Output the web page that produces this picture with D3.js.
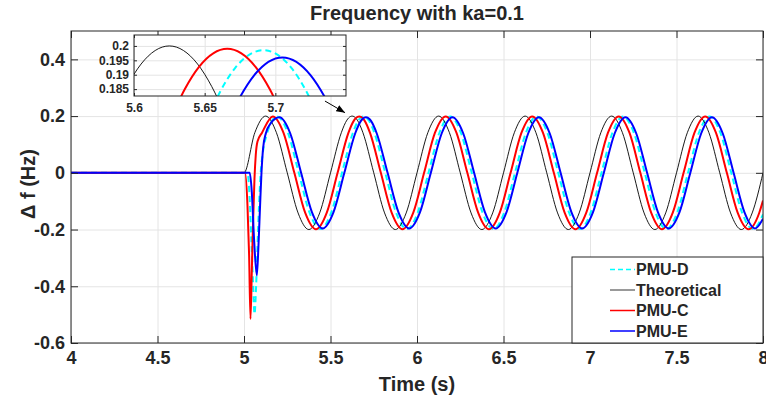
<!DOCTYPE html>
<html>
<head>
<meta charset="utf-8">
<script src="https://cdn.jsdelivr.net/npm/d3@7"></script>
<style>
body{margin:0;background:#fff}
text{font-family:"Liberation Sans",Arial,Helvetica,sans-serif;font-weight:bold;fill:#262626}
</style>
</head>
<body>
<svg id="c" width="766" height="400"></svg>
<script>
// ---------------- DATA ----------------
const titleText = "Frequency with ka=0.1";
const xLabel = "Time (s)";
const yLabel = "\u0394 f (Hz)";
const xDomain = [4, 8];
const yDomain = [-0.6, 0.5];
const xTicks = [4, 4.5, 5, 5.5, 6, 6.5, 7, 7.5, 8];
const yTicks = [-0.6, -0.4, -0.2, 0, 0.2, 0.4];
const insetXDomain = [5.6, 5.75];
const insetYDomain = [0.1826, 0.2038];
const insetXTicks = [5.6, 5.65, 5.7];
const insetYTicks = [0.185, 0.19, 0.195, 0.2];
const seriesNames = ["PMU-D", "Theoretical", "PMU-C", "PMU-E"];

// Theoretical (black)
const tTheo = [4, 5, 5.0625, 5.125, 5.1875, 5.25, 5.3125, 5.375, 5.4375, 5.5, 5.5625, 5.595, 5.605, 5.625, 5.645, 5.655, 5.6875, 5.75, 5.8125, 5.875, 5.9375, 6,
  6.0625, 6.125, 6.1875, 6.25, 6.3125, 6.375, 6.4375, 6.5, 6.5625, 6.625, 6.6875, 6.75, 6.8125, 6.875, 6.9375, 7,
  7.0625, 7.125, 7.1875, 7.25, 7.3125, 7.375, 7.4375, 7.5, 7.5625, 7.625, 7.6875, 7.75, 7.8125, 7.875, 7.9375, 8];
const fTheo = [0, 0, .1414, .2, .1414, 0, -.1414, -.2, -.1414, 0, .1414, .1859, .1937, .2, .1937, .1859, .1414, 0, -.1414, -.2, -.1414, 0,
  .1414, .2, .1414, 0, -.1414, -.2, -.1414, 0, .1414, .2, .1414, 0, -.1414, -.2, -.1414, 0,
  .1414, .2, .1414, 0, -.1414, -.2, -.1414, 0, .1414, .2, .1414, 0, -.1414, -.2, -.1414, 0];

// PMU-C (red)
const tPMUC = [4, 5.006, 5.02, 5.0295, 5.0375, 5.045, 5.0525, 5.0606, 5.068, 5.078,
  5.1035, 5.166, 5.2285, 5.291, 5.3535, 5.416, 5.4785, 5.541, 5.6035, 5.636, 5.646, 5.666, 5.686, 5.696,
  5.7285, 5.791, 5.8535, 5.916, 5.9785, 6.041, 6.1035, 6.166, 6.2285, 6.291, 6.3535, 6.416, 6.4785, 6.541,
  6.6035, 6.666, 6.7285, 6.791, 6.8535, 6.916, 6.9785, 7.041, 7.1035, 7.166, 7.2285, 7.291, 7.3535, 7.416, 7.4785, 7.541,
  7.6035, 7.666, 7.7285, 7.791, 7.8535, 7.916, 7.9785, 8];
const fPMUC = [0, 0, -.114, -.29, -.515, -.35, -.173, -.02, .063, .11,
  .1407, .199, .1407, 0, -.1407, -.199, -.1407, 0, .1407, .185, .1927, .199, .1927, .185,
  .1407, 0, -.1407, -.199, -.1407, 0, .1407, .199, .1407, 0, -.1407, -.199, -.1407, 0,
  .1407, .199, .1407, 0, -.1407, -.199, -.1407, 0, .1407, .199, .1407, 0, -.1407, -.199, -.1407, 0,
  .1407, .199, .1407, 0, -.1407, -.199, -.1407, -.098];

// PMU-D (cyan dashed)
const tPMUD = [4, 5.02, 5.0335, 5.0432, 5.0525, 5.0606, 5.07, 5.078, 5.087, 5.097, 5.107, 5.129,
  5.1915, 5.254, 5.3165, 5.379, 5.4415, 5.504, 5.5665, 5.629, 5.6615, 5.6715, 5.6915, 5.7115, 5.7215,
  5.754, 5.8165, 5.879, 5.9415, 6.004, 6.0665, 6.129, 6.1915, 6.254, 6.3165, 6.379, 6.4415, 6.504, 6.5665,
  6.629, 6.6915, 6.754, 6.8165, 6.879, 6.9415, 7.004, 7.0665, 7.129, 7.1915, 7.254, 7.3165, 7.379, 7.4415, 7.504, 7.5665,
  7.629, 7.6915, 7.754, 7.8165, 7.879, 7.9415, 8];
const fPMUD = [0, 0, -.1, -.25, -.39, -.498, -.40, -.256, -.114, .004, .063, .13,
  .1985, .1404, 0, -.1404, -.1985, -.1404, 0, .1404, .1846, .1923, .1985, .1923, .1846,
  .1404, 0, -.1404, -.1985, -.1404, 0, .1404, .1985, .1404, 0, -.1404, -.1985, -.1404, 0,
  .1404, .1985, .1404, 0, -.1404, -.1985, -.1404, 0, .1404, .1985, .1404, 0, -.1404, -.1985, -.1404, 0,
  .1404, .1985, .1404, 0, -.1404, -.1985, -.147];

// PMU-E (blue)
const tPMUE = [4, 5.033, 5.045, 5.058, 5.074, 5.0837, 5.093, 5.101, 5.1103, 5.126, 5.155,
  5.205, 5.2675, 5.33, 5.3925, 5.455, 5.5175, 5.58, 5.6425, 5.675, 5.685, 5.705, 5.725, 5.735,
  5.7675, 5.83, 5.8925, 5.955, 6.0175, 6.08, 6.1425, 6.205, 6.2675, 6.33, 6.3925, 6.455, 6.5175, 6.58,
  6.6425, 6.705, 6.7675, 6.83, 6.8925, 6.955, 7.0175, 7.08, 7.1425, 7.205, 7.2675, 7.33, 7.3925, 7.455, 7.5175, 7.58,
  7.6425, 7.705, 7.7675, 7.83, 7.8925, 7.955, 8];
const fPMUE = [0, 0, -.067, -.232, -.362, -.256, -.114, 0, .086, .139, .175,
  .196, .1386, 0, -.1386, -.196, -.1386, 0, .1386, .1822, .1898, .196, .1898, .1822,
  .1386, 0, -.1386, -.196, -.1386, 0, .1386, .196, .1386, 0, -.1386, -.196, -.1386, 0,
  .1386, .196, .1386, 0, -.1386, -.196, -.1386, 0, .1386, .196, .1386, 0, -.1386, -.196, -.1386, 0,
  .1386, .196, .1386, 0, -.1386, -.196, -.162];

// ---------------- DRAW ----------------
const series = [
  {name: seriesNames[0], t: tPMUD, f: fPMUD, color: "#00ffff", width: 2, dash: "6,4"},
  {name: seriesNames[1], t: tTheo, f: fTheo, color: "#000000", width: 0.9, dash: null},
  {name: seriesNames[2], t: tPMUC, f: fPMUC, color: "#ff0000", width: 2, dash: null},
  {name: seriesNames[3], t: tPMUE, f: fPMUE, color: "#0000ff", width: 2, dash: null}
].map(s => ({...s, pts: d3.zip(s.t, s.f)}));

const svg = d3.select("#c");
const M = {l: 71, r: 763, t: 31, b: 343};
const x = d3.scaleLinear().domain(xDomain).range([M.l, M.r]);
const y = d3.scaleLinear().domain(yDomain).range([M.b, M.t]);

svg.append("rect").attr("width", 766).attr("height", 400).attr("fill", "#fff");
const defs = svg.append("defs");
defs.append("clipPath").attr("id", "clipMain").append("rect")
  .attr("x", M.l).attr("y", M.t).attr("width", M.r - M.l).attr("height", M.b - M.t);
defs.append("marker").attr("id", "arr").attr("viewBox", "0 0 10 8").attr("refX", 10).attr("refY", 4)
  .attr("markerWidth", 9).attr("markerHeight", 7).attr("markerUnits", "userSpaceOnUse").attr("orient", "auto")
  .append("path").attr("d", "M0,0 L10,4 L0,8 Z").attr("fill", "#000");

// grid
const gridColor = "#e4e4e4";
svg.append("g").attr("transform", `translate(0,${M.b})`)
  .call(d3.axisBottom(x).tickValues(xTicks).tickSize(-(M.b - M.t)).tickFormat(""))
  .call(g => { g.select(".domain").remove(); g.selectAll("line").attr("stroke", gridColor); });
svg.append("g").attr("transform", `translate(${M.l},0)`)
  .call(d3.axisLeft(y).tickValues(yTicks).tickSize(-(M.r - M.l)).tickFormat(""))
  .call(g => { g.select(".domain").remove(); g.selectAll("line").attr("stroke", gridColor); });

// data
function drawLines(g, xs, ys) {
  const line = d3.line().x(d => xs(d[0])).y(d => ys(d[1])).curve(d3.curveMonotoneX);
  series.forEach(s => {
    g.append("path").attr("d", line(s.pts)).attr("fill", "none")
      .attr("stroke", s.color).attr("stroke-width", s.width)
      .attr("stroke-dasharray", s.dash).attr("stroke-linejoin", "round");
  });
}
drawLines(svg.append("g").attr("clip-path", "url(#clipMain)"), x, y);

// axes
const axColor = "#262626";
function styleAxis(g, fs) {
  g.select(".domain").remove();
  g.selectAll("line").attr("stroke", axColor);
  g.selectAll("text").attr("font-size", fs).attr("fill", axColor)
    .style("font-family", '"Liberation Sans",Arial,sans-serif').style("font-weight", "bold");
}
svg.append("g").attr("transform", `translate(0,${M.b})`)
  .call(d3.axisBottom(x).tickValues(xTicks).tickSizeInner(-7).tickSizeOuter(0).tickPadding(8).tickFormat(d => String(d)))
  .call(g => styleAxis(g, 18));
svg.append("g").attr("transform", `translate(0,${M.t})`)
  .call(d3.axisTop(x).tickValues(xTicks).tickSizeInner(-7).tickSizeOuter(0).tickFormat(""))
  .call(g => styleAxis(g, 18));
svg.append("g").attr("transform", `translate(${M.l},0)`)
  .call(d3.axisLeft(y).tickValues(yTicks).tickSizeInner(-7).tickSizeOuter(0).tickPadding(6).tickFormat(d => String(d)))
  .call(g => styleAxis(g, 18));
svg.append("g").attr("transform", `translate(${M.r},0)`)
  .call(d3.axisRight(y).tickValues(yTicks).tickSizeInner(-7).tickSizeOuter(0).tickFormat(""))
  .call(g => styleAxis(g, 18));
svg.append("rect").attr("x", M.l).attr("y", M.t).attr("width", M.r - M.l).attr("height", M.b - M.t)
  .attr("fill", "none").attr("stroke", axColor).attr("stroke-width", 1);

// title and labels
svg.append("text").attr("x", (M.l + M.r) / 2).attr("y", 20).attr("text-anchor", "middle")
  .attr("font-size", 20).attr("fill", "#000").text(titleText);
svg.append("text").attr("x", (M.l + M.r) / 2).attr("y", 391).attr("text-anchor", "middle")
  .attr("font-size", 20).text(xLabel);
svg.append("text").attr("transform", "translate(35,184) rotate(-90)").attr("text-anchor", "middle")
  .attr("font-size", 20).text(yLabel);

// inset
const I = {l: 134, r: 346, t: 35, b: 96};
const xi = d3.scaleLinear().domain(insetXDomain).range([I.l, I.r]);
const yi = d3.scaleLinear().domain(insetYDomain).range([I.b, I.t]);
defs.append("clipPath").attr("id", "clipInset").append("rect")
  .attr("x", I.l).attr("y", I.t).attr("width", I.r - I.l).attr("height", I.b - I.t);
svg.append("rect").attr("x", I.l).attr("y", I.t).attr("width", I.r - I.l).attr("height", I.b - I.t).attr("fill", "#fff");
svg.append("g").attr("transform", `translate(0,${I.b})`)
  .call(d3.axisBottom(xi).tickValues(insetXTicks).tickSize(-(I.b - I.t)).tickFormat(""))
  .call(g => { g.select(".domain").remove(); g.selectAll("line").attr("stroke", gridColor); });
svg.append("g").attr("transform", `translate(${I.l},0)`)
  .call(d3.axisLeft(yi).tickValues(insetYTicks).tickSize(-(I.r - I.l)).tickFormat(""))
  .call(g => { g.select(".domain").remove(); g.selectAll("line").attr("stroke", gridColor); });
drawLines(svg.append("g").attr("clip-path", "url(#clipInset)"), xi, yi);
svg.append("g").attr("transform", `translate(0,${I.b})`)
  .call(d3.axisBottom(xi).tickValues(insetXTicks).tickSizeInner(-3).tickSizeOuter(0).tickPadding(7).tickFormat(d => String(d)))
  .call(g => styleAxis(g, 12));
svg.append("g").attr("transform", `translate(0,${I.t})`)
  .call(d3.axisTop(xi).tickValues(insetXTicks).tickSizeInner(-3).tickSizeOuter(0).tickFormat(""))
  .call(g => styleAxis(g, 12));
svg.append("g").attr("transform", `translate(${I.l},0)`)
  .call(d3.axisLeft(yi).tickValues(insetYTicks).tickSizeInner(-3).tickSizeOuter(0).tickPadding(5).tickFormat(d => String(d)))
  .call(g => styleAxis(g, 12));
svg.append("g").attr("transform", `translate(${I.r},0)`)
  .call(d3.axisRight(yi).tickValues(insetYTicks).tickSizeInner(-3).tickSizeOuter(0).tickFormat(""))
  .call(g => styleAxis(g, 12));
svg.append("rect").attr("x", I.l).attr("y", I.t).attr("width", I.r - I.l).attr("height", I.b - I.t)
  .attr("fill", "none").attr("stroke", axColor).attr("stroke-width", 1);

// arrow annotation (data coordinates)
const arrowFrom = [5.468, 0.253], arrowTo = [5.584, 0.212];
svg.append("line").attr("x1", x(arrowFrom[0])).attr("y1", y(arrowFrom[1]))
  .attr("x2", x(arrowTo[0])).attr("y2", y(arrowTo[1]))
  .attr("stroke", "#000").attr("stroke-width", 1).attr("marker-end", "url(#arr)");

// legend
const L = {x: 572, y: 257, w: 191, h: 86};
const lg = svg.append("g");
lg.append("rect").attr("x", L.x).attr("y", L.y).attr("width", L.w).attr("height", L.h)
  .attr("fill", "#fff").attr("stroke", axColor).attr("stroke-width", 1);
series.forEach((s, i) => {
  const cy = L.y + 12.5 + i * 20.5;
  lg.append("line").attr("x1", L.x + 38).attr("x2", L.x + 63).attr("y1", cy).attr("y2", cy)
    .attr("stroke", s.color).attr("stroke-width", s.name === "Theoretical" ? 0.8 : 1.5)
    .attr("stroke-dasharray", s.dash ? "5,3" : null);
  lg.append("text").attr("x", L.x + 64).attr("y", cy + 5.8).attr("font-size", 16)
    .attr("fill", "#000").text(s.name);
});
</script>
</body>
</html>
